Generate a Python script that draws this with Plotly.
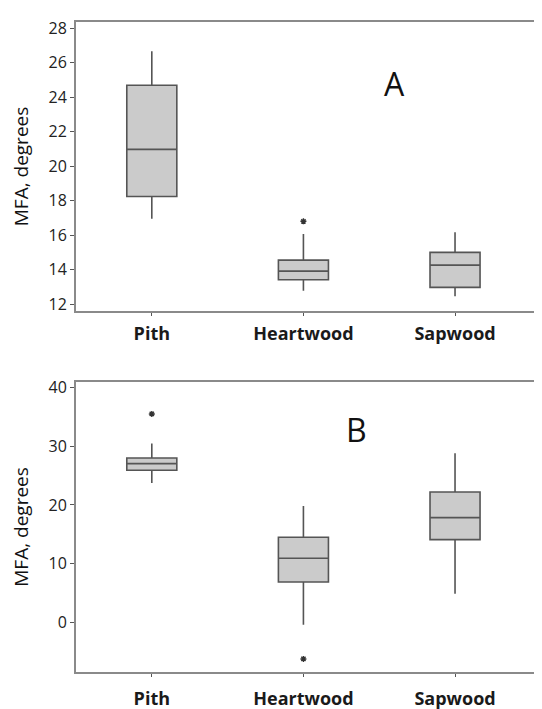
import plotly.graph_objects as go
from plotly.subplots import make_subplots

categories = ["Pith", "Heartwood", "Sapwood"]

# Panel A statistics (MFA, degrees)
a_low = [16.95, 12.77, 12.45]
a_q1 = [18.24, 13.41, 12.97]
a_med = [20.97, 13.91, 14.26]
a_q3 = [24.68, 14.55, 15.0]
a_high = [26.65, 16.06, 16.17]
a_out_x = ["Heartwood"]
a_out_y = [16.8]

# Panel B statistics (MFA, degrees)
b_low = [23.73, -0.35, 4.92]
b_q1 = [25.9, 6.91, 14.1]
b_med = [27.02, 10.93, 17.84]
b_q3 = [27.98, 14.5, 22.2]
b_high = [30.42, 19.82, 28.78]
b_out_x = ["Pith", "Heartwood"]
b_out_y = [35.46, -6.18]

a_ticks = [12, 14, 16, 18, 20, 22, 24, 26, 28]
b_ticks = [0, 10, 20, 30, 40]

FONT = "'Open Sans', Lato, sans-serif"
BOX_FILL = "#cbcbcb"
BOX_LINE = "#555555"
AXIS_COL = "#8a8a8a"

fig = make_subplots(rows=2, cols=1)

def add_panel(row, low, q1, med, q3, high, ox, oy):
    fig.add_trace(go.Box(
        x=categories, q1=q1, median=med, q3=q3,
        lowerfence=low, upperfence=high,
        fillcolor=BOX_FILL, line=dict(color=BOX_LINE, width=1.6),
        width=0.33, whiskerwidth=0, boxpoints=False, showlegend=False,
    ), row=row, col=1)
    fig.add_trace(go.Scatter(
        x=ox, y=oy, mode="markers",
        marker=dict(symbol="asterisk-open", size=5, color="#333",
                    line=dict(color="#333", width=1.4)),
        showlegend=False,
    ), row=row, col=1)

add_panel(1, a_low, a_q1, a_med, a_q3, a_high, a_out_x, a_out_y)
add_panel(2, b_low, b_q1, b_med, b_q3, b_high, b_out_x, b_out_y)

xaxis_common = dict(
    type="category", categoryorder="array", categoryarray=categories,
    range=[-0.5, 2.6], showline=True, linecolor=AXIS_COL, linewidth=2,
    mirror=True, ticks="outside", ticklen=3, tickcolor="#555",
    showgrid=False, zeroline=False,
    tickfont=dict(family=FONT, size=18, color="#1a1a1a", weight="bold"),
)
yaxis_common = dict(
    showline=True, linecolor=AXIS_COL, linewidth=2, mirror=True,
    ticks="outside", ticklen=4, tickcolor="#555", showgrid=False,
    zeroline=False,
    tickfont=dict(family=FONT, size=16, color="#222"),
    title=dict(text="MFA, degrees", font=dict(family=FONT, size=19, color="#111"),
               standoff=16),
)

fig.update_layout(
    width=542, height=709,
    margin=dict(l=68, r=2, t=14, b=45),
    plot_bgcolor="white", paper_bgcolor="white",
    xaxis=dict(xaxis_common, domain=[0, 1], ticklabelstandoff=2),
    xaxis2=dict(xaxis_common, domain=[0, 1], ticklabelstandoff=6),
    yaxis=dict(yaxis_common, domain=[0.5554, 1.0], range=[11.6, 28.35],
               tickvals=a_ticks),
    yaxis2=dict(yaxis_common, domain=[0.0, 0.4462], range=[-8.4, 40.9],
                tickvals=b_ticks),
    annotations=[
        dict(text="A", x=1.6, y=24.8, xref="x", yref="y", showarrow=False,
             font=dict(family=FONT, size=32, color="#111")),
        dict(text="B", x=1.35, y=32.8, xref="x2", yref="y2", showarrow=False,
             font=dict(family=FONT, size=32, color="#111")),
    ],
)

fig.write_html("out.html")
